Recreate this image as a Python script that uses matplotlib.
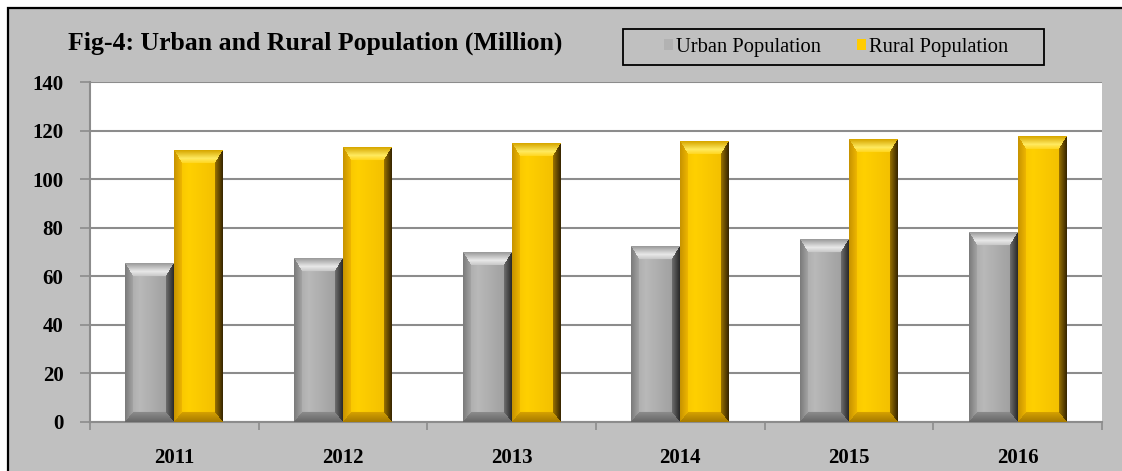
import numpy as np
import matplotlib
matplotlib.use("Agg")
import matplotlib.pyplot as plt
from matplotlib.patches import Rectangle

# data
years = ["2011", "2012", "2013", "2014", "2015", "2016"]
urban = [65.2, 67.3, 69.9, 72.3, 75.2, 78.0]
rural = [111.8, 113.1, 114.7, 115.5, 116.3, 117.7]

plt.rcParams["font.family"] = ["Liberation Serif", "DejaVu Serif"]

W, H = 1122, 471
fig = plt.figure(figsize=(W / 100, H / 100), dpi=100, facecolor="white")

# grey chart area with black frame (top and left edges visible)
fig.patches.append(Rectangle((8 / W, -0.1), 1.2, 1.1 - 8 / H, transform=fig.transFigure,
                             facecolor="#c0c0c0", edgecolor="black", linewidth=1.6, zorder=-10))

ax = fig.add_axes([90 / W, 49.3 / H, 1012 / W, 339.7 / H])
ax.set_facecolor("white")

x = np.arange(len(years))
bw = 0.29
b1 = ax.bar(x - bw / 2, urban, bw, color="#b2b2b2", label="Urban Population", zorder=3)
b2 = ax.bar(x + bw / 2, rural, bw, color="#ffcc00", label="Rural Population", zorder=3)

ax.set_xlim(-0.5, len(years) - 0.5)
ax.set_ylim(0, 140)
ax.set_yticks(np.arange(0, 141, 20))
ax.set_xticks(x)
ax.set_xticklabels(years)
ax.set_xticks(np.arange(-0.5, len(years), 1), minor=True)
ax.tick_params(axis="x", which="major", length=0, pad=19, labelsize=15)
ax.tick_params(axis="x", which="minor", length=6, color="#8c8c8c", width=1.2)
ax.tick_params(axis="y", length=7, color="#8c8c8c", width=1.2, pad=12, labelsize=15)
for lab in ax.get_xticklabels() + ax.get_yticklabels():
    lab.set_fontweight("bold")
ax.grid(axis="y", color="#8c8c8c", linewidth=1.5, zorder=1)
ax.set_axisbelow(True)
for s in ["top", "right"]:
    ax.spines[s].set_visible(False)
for s in ["left", "bottom"]:
    ax.spines[s].set_color("#8c8c8c")
    ax.spines[s].set_linewidth(1.5)


def rgb(h):
    return np.array([int(h[k:k + 2], 16) / 255 for k in (1, 3, 5)])


def mix(a, b, t):
    return a + (b - a) * t[..., None]


def bevel_image(hpx, wpx, c):
    # bevelled bar face: top/bottom/left/right slopes around a flat front
    hpx = max(int(round(hpx)), 2)
    wpx = max(int(round(wpx)), 2)
    ii, jj = np.mgrid[0:hpx, 0:wpx].astype(float)
    nt = ii / 13
    nb = (hpx - 1 - ii) / 10
    nl = jj / 8
    nr = (wpx - 1 - jj) / 8
    t = jj / (wpx - 1)
    front = np.where((t < 0.3)[..., None], mix(c["f0"], c["f1"], t / 0.3),
                     mix(c["f1"], c["f2"], (t - 0.3) / 0.7))
    img = front
    m = np.minimum(np.minimum(nt, nb), np.minimum(nl, nr))
    cl = np.clip
    img = np.where(((nl == m) & (m < 1))[..., None], mix(c["l0"], c["l1"], cl(nl, 0, 1)), img)
    img = np.where(((nr == m) & (m < 1))[..., None], mix(c["r0"], c["r1"], cl(nr, 0, 1)), img)
    img = np.where(((nb == m) & (m < 1))[..., None], mix(c["b0"], c["b1"], cl(nb, 0, 1)), img)
    top = np.where((nt < 0.6)[..., None], mix(c["t0"], c["t1"], cl(nt / 0.6, 0, 1)),
                   mix(c["t1"], c["t2"], cl((nt - 0.6) / 0.4, 0, 1)))
    img = np.where(((nt == m) & (m < 1))[..., None], top, img)
    return np.clip(img, 0, 1)


grey = {k: rgb(v) for k, v in dict(
    f0="#a4a4a4", f1="#b9b9b9", f2="#9a9a9a",
    l0="#7c7c7c", l1="#a6a6a6", r0="#2c2c2c", r1="#747474",
    t0="#9c9c9c", t1="#e8e8e8", t2="#c4c4c4", b0="#686868", b1="#8e8e8e").items()}
gold = {k: rgb(v) for k, v in dict(
    f0="#f4c000", f1="#ffd000", f2="#f0bc00",
    l0="#c89400", l1="#f0b800", r0="#3a2800", r1="#a07800",
    t0="#d8a800", t1="#ffea60", t2="#ffd418", b0="#a87c00", b1="#d8a400").items()}

fig.canvas.draw()
for bars, cols in [(b1, grey), (b2, gold)]:
    for p in bars:
        x0, y0 = p.get_x(), p.get_y()
        x1, y1 = x0 + p.get_width(), y0 + p.get_height()
        (px0, py0), (px1, py1) = ax.transData.transform([(x0, y0), (x1, y1)])
        img = bevel_image(py1 - py0, px1 - px0, cols)
        ax.imshow(img, extent=(x0, x1, y0, y1), aspect="auto", zorder=4,
                  interpolation="bilinear", clip_path=p)
ax.set_xlim(-0.5, len(years) - 0.5)
ax.set_ylim(0, 140)

fig.text(68 / W, 1 - 43 / H, "Fig-4: Urban and Rural Population (Million)",
         fontsize=18.5, fontweight="bold", va="center", ha="left")

# legend box is wider than the legend content
fig.patches.append(Rectangle((623 / W, 1 - 65 / H), 421 / W, 36 / H, transform=fig.transFigure,
                             facecolor="none", edgecolor="black", linewidth=1.3, zorder=5))
leg = fig.legend(handles=[b1, b2], loc="center", bbox_to_anchor=(836 / W, 1 - 47.5 / H),
                 ncol=2, frameon=False, fontsize=14.8, handlelength=0.45, handleheight=0.45,
                 handletextpad=0.15, columnspacing=1.75, borderpad=0.2)

fig.savefig("out.png", dpi=100)
